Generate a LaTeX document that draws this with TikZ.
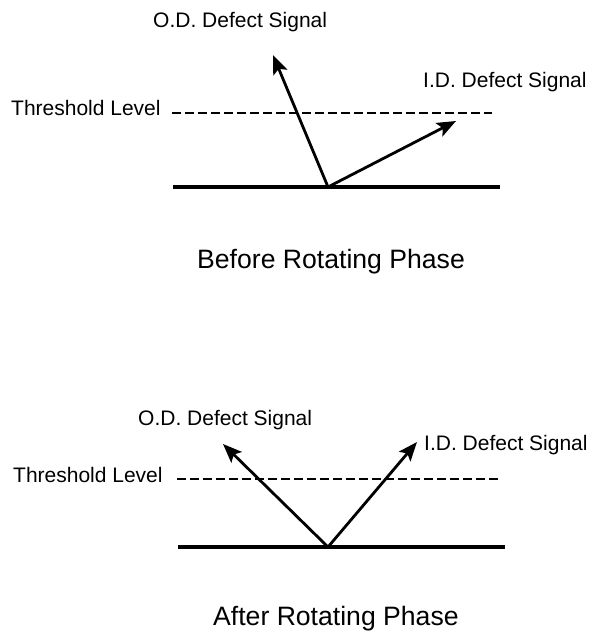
\documentclass[tikz,border=0pt]{standalone}
\usepackage{fontspec}
\setmainfont{Liberation Sans}
\usetikzlibrary{arrows.meta}
\tikzset{%
	lbl/.style = {anchor = base west, inner sep = 0pt, font = \fontsize{21}{25}\selectfont},
	phase/.style = {anchor = base west, inner sep = 0pt, font = \fontsize{26.6}{32}\selectfont},
	ground/.style = {line width = 3.4pt},
	thr/.style = {line width = 2.8pt, dash pattern = on 8.5pt off 4.5pt},
	sig/.style = {line width = 2.8pt, -{Stealth[length = 19pt, width = 15pt, inset = 4pt]}}
}

\begin{document}
\begin{tikzpicture}[x=1pt, y=-1pt]
			\useasboundingbox (0,0) rectangle (597,631);
			% before rotating phase
			\coordinate (o1) at (328,187);
			\coordinate (gl1) at (173,187);
			\coordinate (gr1) at (500,187);
			\coordinate (tl1) at (172,113);
			\coordinate (tr1) at (492,113);
			\coordinate (od1) at (273,55);
			\coordinate (id1) at (456,121);
			\node [lbl] (odl1) at (153,28) {O.D. Defect Signal};
			\node [lbl] (idl1) at (423,88) {I.D. Defect Signal};
			\node [lbl] (thl1) at (11,116) {Threshold Level};
			\node [phase] (ph1) at (197,268) {Before Rotating Phase};
			\draw [ground] (gl1) -- (gr1);
			\draw [thr] (tl1) -- (tr1);
			\draw [sig] (o1) -- (od1);
			\draw [sig] (o1) -- (id1);
			% after rotating phase
			\coordinate (o2) at (328,547);
			\coordinate (gl2) at (178,547);
			\coordinate (gr2) at (505,547);
			\coordinate (tl2) at (177,479);
			\coordinate (tr2) at (500,479);
			\coordinate (od2) at (223,444);
			\coordinate (id2) at (417,442);
			\node [lbl] (odl2) at (138,425) {O.D. Defect Signal};
			\node [lbl] (idl2) at (424,450) {I.D. Defect Signal};
			\node [lbl] (thl2) at (13,482) {Threshold Level};
			\node [phase] (ph2) at (213,625) {After Rotating Phase};
			\draw [ground] (gl2) -- (gr2);
			\draw [thr] (tl2) -- (tr2);
			\draw [sig] (o2) -- (od2);
			\draw [sig] (o2) -- (id2);
\end{tikzpicture}
\end{document}
